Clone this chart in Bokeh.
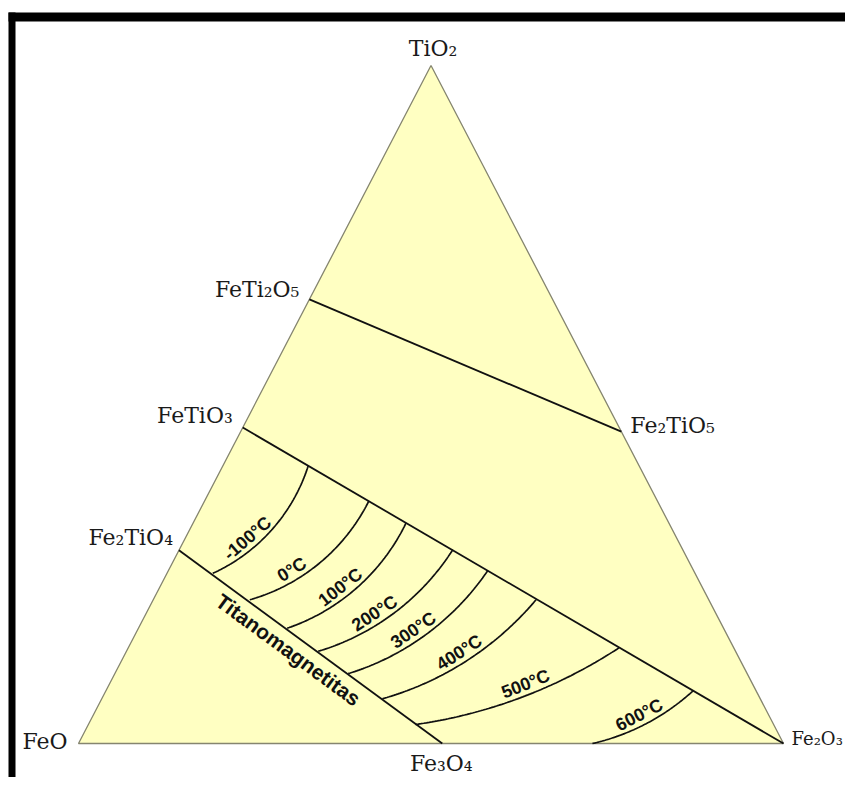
import numpy as np
from bokeh.plotting import figure
from bokeh.models import Range1d, ColumnDataSource
from bokeh.core.properties import value
from bokeh.embed import file_html
from bokeh.resources import INLINE

# ---------------- data (ternary compositions: Fe2O3 and TiO2 fractions; FeO = remainder) ----
vertex_names = ["FeO", "Fe₂O₃", "TiO₂"]
vertex_fe2o3 = [0.0, 1.0, 0.0]
vertex_tio2 = [0.0, 0.0, 1.0]

phase_names = ["FeTi₂O₅", "FeTiO₃", "Fe₂TiO₄", "Fe₃O₄", "Fe₂TiO₅"]
phase_fe2o3 = [0.0, 0.0, 0.0, 0.516, 0.540]
phase_tio2 = [0.655, 0.466, 0.285, 0.0, 0.460]

join_from = ["FeTi₂O₅", "FeTiO₃", "Fe₂TiO₄"]
join_to = ["Fe₂TiO₅", "Fe₂O₃", "Fe₃O₄"]

iso_labels = ["-100°C", "0°C", "100°C", "200°C", "300°C", "400°C", "500°C", "600°C"]
iso_lo_fe2o3 = [0.065, 0.137, 0.211, 0.272, 0.331, 0.398, 0.464, 0.729]
iso_lo_tio2 = [0.251, 0.212, 0.170, 0.136, 0.103, 0.066, 0.028, 0.0]
iso_hi_fe2o3 = [0.121, 0.233, 0.302, 0.388, 0.453, 0.543, 0.696, 0.833]
iso_hi_tio2 = [0.410, 0.357, 0.325, 0.286, 0.255, 0.212, 0.141, 0.078]
iso_bow = [0.106, 0.105, 0.100, 0.090, 0.085, 0.075, 0.055, 0.065]   # sagitta / chord

series_label = "Titanomagnetitas"

# ---------------- layout ----------------
W, H = 845, 777
SX, SY = 705.0, 678.0          # pixels per ternary unit (x, y)
X0 = 78.0                      # FeO vertex, pixels from left
Y0 = H - 743.0                 # FeO vertex, pixels from bottom


def tern(b, c):
    b = np.asarray(b, float)
    c = np.asarray(c, float)
    return b + c / 2.0, c


def px_to_data(X, Y):
    return (X - X0) / SX, (H - Y - Y0) / SY


p = figure(width=W, height=H, output_backend="svg", toolbar_location=None,
           x_range=Range1d(-X0 / SX, (W - X0) / SX),
           y_range=Range1d(-Y0 / SY, (H - Y0) / SY),
           min_border=0, outline_line_color=None, background_fill_color="white",
           border_fill_color="white")
p.axis.visible = False
p.grid.visible = False

# frame (black band top and left)
l1, t1 = px_to_data(8, 12)
r1, b1 = px_to_data(15, 900)
l2, t2 = px_to_data(8, 12)
r2, b2 = px_to_data(900, 21)
p.quad(left=[l1, l2], right=[r1, r2], top=[t1, t2], bottom=[b1, b2],
       fill_color="black", line_color=None)

# triangle
tx, ty = tern(vertex_fe2o3, vertex_tio2)
p.patch(list(tx), list(ty), fill_color="#FFFFC2", line_color="#85856f", line_width=1.3)

# lookup of named points
names = phase_names + vertex_names
bx = list(phase_fe2o3) + list(vertex_fe2o3)
cx = list(phase_tio2) + list(vertex_tio2)
px_, py_ = tern(bx, cx)
pos = {n: (px_[i], py_[i]) for i, n in enumerate(names)}

# joins
p.segment(x0=[pos[a][0] for a in join_from], y0=[pos[a][1] for a in join_from],
          x1=[pos[b][0] for b in join_to], y1=[pos[b][1] for b in join_to],
          line_color="#111111", line_width=1.8)


def arc(p0, p1, bow):
    p0 = np.asarray(p0, float)
    p1 = np.asarray(p1, float)
    d = p1 - p0
    L = np.hypot(d[0], d[1])
    dn = d / L
    nrm = np.array([dn[1], -dn[0]])
    s = bow * L
    R = (L * L / 4 + s * s) / (2 * s)
    C = (p0 + p1) / 2 - nrm * (R - s)
    a0 = np.arctan2(p0[1] - C[1], p0[0] - C[0])
    a1 = np.arctan2(p1[1] - C[1], p1[0] - C[0])
    da = (a1 - a0 + np.pi) % (2 * np.pi) - np.pi
    return C, R, a0, da


label_u = [0.335, 0.33, 0.42, 0.40, 0.45, 0.49, 0.54, 0.48]
label_off = 11.0

lo_x, lo_y = tern(iso_lo_fe2o3, iso_lo_tio2)
hi_x, hi_y = tern(iso_hi_fe2o3, iso_hi_tio2)
xs, ys = [], []
lx, ly, la = [], [], []
for i in range(len(iso_labels)):
    p0 = (lo_x[i] * SX, lo_y[i] * SY)
    p1 = (hi_x[i] * SX, hi_y[i] * SY)
    C, R, a0, da = arc(p0, p1, iso_bow[i])
    t = np.linspace(0, 1, 80)
    ang = a0 + da * t
    xs.append(list((C[0] + R * np.cos(ang)) / SX))
    ys.append(list((C[1] + R * np.sin(ang)) / SY))
    au = a0 + da * label_u[i]
    r = np.array([np.cos(au), np.sin(au)])
    pt = C + R * r - r * label_off
    tang = np.sign(da) * np.array([-np.sin(au), np.cos(au)])
    lx.append(pt[0] / SX)
    ly.append(pt[1] / SY)
    la.append(float(np.arctan2(tang[1], tang[0])))

p.multi_line(xs, ys, line_color="#111111", line_width=1.7)

iso_src = ColumnDataSource(dict(x=lx, y=ly, text=iso_labels, angle=la))
p.text(x="x", y="y", text="text", angle="angle", source=iso_src,
       text_font=value("Liberation Sans"), text_font_style="bold",
       text_font_size="18px", text_align="center", text_baseline="middle",
       text_color="#111111")

# series label along the titanomagnetite join
a = np.array([pos["Fe₂TiO₄"][0] * SX, pos["Fe₂TiO₄"][1] * SY])
b = np.array([pos["Fe₃O₄"][0] * SX, pos["Fe₃O₄"][1] * SY])
dvec = (b - a) / np.hypot(*(b - a))
nvec = np.array([dvec[1], -dvec[0]])
if nvec[1] > 0:
    nvec = -nvec
c = a + (b - a) * 0.45 + nvec * 15.5
p.text(x=[c[0] / SX], y=[c[1] / SY], text=[series_label],
       angle=float(np.arctan2(dvec[1], dvec[0])),
       text_font=value("Liberation Sans"), text_font_style="bold",
       text_font_size="21px", text_align="center", text_baseline="middle",
       text_color="#111111")

# compound labels: (x offset, y offset, align, size)
lab_style = {
    "TiO₂": (2, -17, "center", "22px"),
    "FeTi₂O₅": (-10, -10, "right", "22px"),
    "FeTiO₃": (-10, -12, "right", "22px"),
    "Fe₂TiO₄": (-6, -13, "right", "22px"),
    "FeO": (-11, -2, "right", "22px"),
    "Fe₃O₄": (-1, 20, "center", "22px"),
    "Fe₂O₃": (8, -5, "left", "18px"),
    "Fe₂TiO₅": (9, -6, "left", "22px"),
}
for name, (dx, dy, al, fs) in lab_style.items():
    p.text(x=[pos[name][0]], y=[pos[name][1]], text=[name], x_offset=dx, y_offset=dy,
           text_font=value("DejaVu Serif"), text_font_size=fs,
           text_align=al, text_baseline="middle", text_color="#1a1a1a")

open("out.html", "w").write(file_html(p, INLINE))
